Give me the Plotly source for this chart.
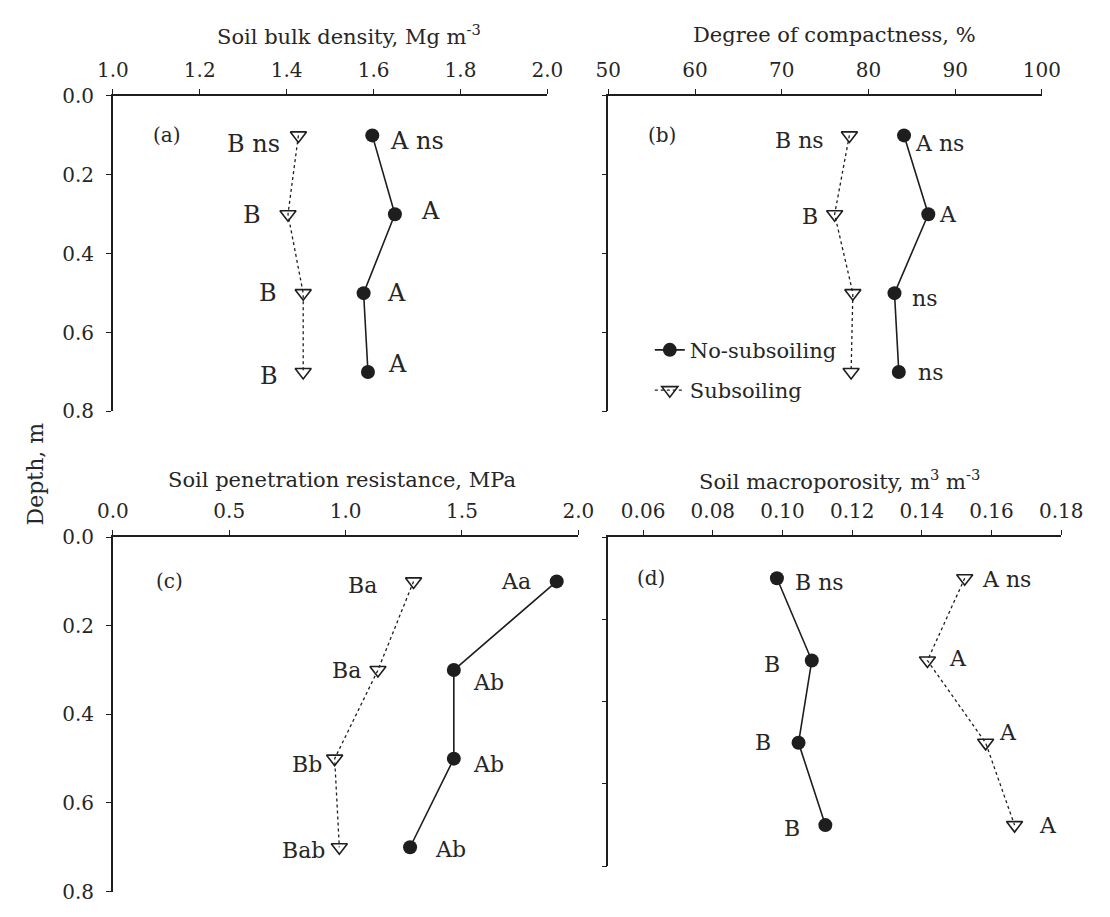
import plotly.graph_objects as go

# ---------------- data ----------------
depth = [0.1, 0.3, 0.5, 0.7]

bulk_no = [1.597, 1.649, 1.577, 1.587]
bulk_sub = [1.427, 1.403, 1.438, 1.438]
bulk_lab_no = ["A ns", "A", "A", "A"]
bulk_lab_sub = ["B ns", "B", "B", "B"]

comp_no = [84.1, 86.9, 83.0, 83.5]
comp_sub = [77.8, 76.1, 78.2, 78.0]
comp_lab_no = ["A ns", "A", "ns", "ns"]
comp_lab_sub = ["B ns", "B", "", ""]

pen_no = [1.907, 1.465, 1.465, 1.277]
pen_sub = [1.292, 1.139, 0.953, 0.973]
pen_lab_no = ["Aa", "Ab", "Ab", "Ab"]
pen_lab_sub = ["Ba", "Ba", "Bb", "Bab"]

macro_no = [0.0984, 0.1084, 0.1046, 0.1123]
macro_sub = [0.1523, 0.1416, 0.1583, 0.1666]
macro_lab_no = ["B ns", "B", "B", "B"]
macro_lab_sub = ["A ns", "A", "A", "A"]

titles = ["Soil bulk density, Mg m<sup>-3</sup>", "Degree of compactness, %",
          "Soil penetration resistance, MPa", "Soil macroporosity, m<sup>3</sup> m<sup>-3</sup>"]
panel_tags = ["(a)", "(b)", "(c)", "(d)"]
depth_ticks = [0.0, 0.2, 0.4, 0.6, 0.8]

# ---------------- layout helpers ----------------
W, H = 1110, 917
OFF = 8  # page body margin shifts the figure by 8 px
FONT = "DejaVu Serif"
INK = "#1e1e1e"
TXT = "#262626"


def fx(px):
    return (px - OFF) / W


def fy(py):
    return 1 - (py - OFF) / H


# panel geometry in window pixels: (x0, x1, y_top, y_bottom)
geom = [(100, 550, 86, 410), (613, 1062, 86, 410), (100, 582, 539, 903), (613, 1082, 539, 877)]
title_cx = [345, 847, 337, 852]
title_gap = [63, 63, 59, 59]
xranges = [[1.0, 2.0], [50, 100], [0.0, 2.0], [0.05, 0.18]]
xticks = [[1.0, 1.2, 1.4, 1.6, 1.8, 2.0], [50, 60, 70, 80, 90, 100],
          [0.0, 0.5, 1.0, 1.5, 2.0], [0.06, 0.08, 0.10, 0.12, 0.14, 0.16, 0.18]]
xfmt = [".1f", "d", ".1f", ".2f"]
tag_x = [1.124, 56.2, 0.245, 0.0624]
ann_size = [24, 22, 22, 22]

series = [
    (bulk_no, bulk_sub, bulk_lab_no, bulk_lab_sub),
    (comp_no, comp_sub, comp_lab_no, comp_lab_sub),
    (pen_no, pen_sub, pen_lab_no, pen_lab_sub),
    (macro_no, macro_sub, macro_lab_no, macro_lab_sub),
]

# label placement (side, xshift px, yshift px) per point
lab_pos_no = [
    [("r", 16, -6), ("r", 24, 3), ("r", 21, 0), ("r", 18, 8)],
    [("r", 9, -8), ("r", 9, 0), ("r", 16, -5), ("r", 17, 0)],
    [("l", -24, 0), ("r", 17, -12), ("r", 17, -6), ("r", 23, -2)],
    [("r", 16, -4), ("l", -30, -4), ("l", -26, 0), ("l", -23, -3)],
]
lab_pos_sub = [
    [("l", -16, -9), ("l", -25, -1), ("l", -24, 0), ("l", -23, -4)],
    [("l", -23, -5), ("l", -15, -2), ("l", 0, 0), ("l", 0, 0)],
    [("l", -35, -4), ("l", -15, 0), ("l", -11, -6), ("l", -12, -3)],
    [("r", 15, -1), ("r", 20, 2), ("r", 11, 10), ("r", 22, 0)],
]

fig = go.Figure()
annotations = []

for i in range(4):
    ax = "" if i == 0 else str(i + 1)
    xref, yref = "x" + ax, "y" + ax
    no, sub, lno, lsub = series[i]
    fig.add_trace(go.Scatter(
        x=no, y=depth, xaxis=xref, yaxis=yref, mode="lines+markers", name="No-subsoiling",
        line=dict(color=INK, width=1.6),
        marker=dict(symbol="circle", size=14, color=INK),
        showlegend=(i == 0), legendgroup="no"))
    fig.add_trace(go.Scatter(
        x=sub, y=depth, xaxis=xref, yaxis=yref, mode="lines+markers", name="Subsoiling",
        line=dict(color=INK, width=1.3, dash="dot"),
        marker=dict(symbol="triangle-down-open", size=14, color=INK, line=dict(width=1.6)),
        showlegend=(i == 0), legendgroup="sub"))

    for vals, labs, pos in ((no, lno, lab_pos_no[i]), (sub, lsub, lab_pos_sub[i])):
        for v, d, t, (side, xs, ys) in zip(vals, depth, labs, pos):
            if not t:
                continue
            annotations.append(dict(
                x=v, y=d, xref=xref, yref=yref, text=t, showarrow=False,
                xanchor="left" if side == "r" else "right", yanchor="middle",
                xshift=xs, yshift=ys, font=dict(family=FONT, size=ann_size[i], color=TXT)))

    annotations.append(dict(x=tag_x[i], y=depth[0], xref=xref, yref=yref, text=panel_tags[i],
                            showarrow=False, xanchor="center", yanchor="middle",
                            font=dict(family=FONT, size=20, color=TXT)))

    x0, x1, yt, yb = geom[i]
    annotations.append(dict(x=fx(title_cx[i]), y=fy(yt - title_gap[i]), xref="paper", yref="paper",
                            text=titles[i], showarrow=False, xanchor="center", yanchor="middle",
                            font=dict(family=FONT, size=21, color=TXT)))

    fig.update_layout(**{
        "xaxis" + ax: dict(domain=[fx(x0), fx(x1)], anchor=yref, side="top", range=xranges[i],
                           tickvals=xticks[i], tickformat=xfmt[i], showline=True, linecolor=INK,
                           linewidth=1.5, ticks="outside", ticklen=5, tickwidth=1.3, tickcolor=INK,
                           showgrid=False, zeroline=False, ticklabelstandoff=4,
                           tickfont=dict(family=FONT, size=20, color=TXT)),
        "yaxis" + ax: dict(domain=[fy(yb), fy(yt)], anchor=xref, range=[0.8, 0.0],
                           tickvals=depth_ticks, tickformat=".1f",
                           showticklabels=(i in (0, 2)), showline=True, linecolor=INK,
                           linewidth=1.5, ticks="outside", ticklen=5, tickwidth=1.3, tickcolor=INK,
                           showgrid=False, zeroline=False, ticklabelstandoff=8,
                           tickfont=dict(family=FONT, size=20, color=TXT)),
    })

annotations.append(dict(x=fx(20), y=fy(474), xref="paper", yref="paper", text="Depth, m",
                        showarrow=False, textangle=-90, xanchor="center", yanchor="middle",
                        font=dict(family=FONT, size=22, color=TXT)))

fig.update_layout(
    width=W, height=H, margin=dict(l=0, r=0, t=0, b=0),
    paper_bgcolor="white", plot_bgcolor="white",
    annotations=annotations,
    legend=dict(x=fx(656), y=fy(326), xanchor="left", yanchor="top", bgcolor="rgba(0,0,0,0)",
                font=dict(family=FONT, size=21, color=TXT), tracegroupgap=10),
    showlegend=True,
)

fig.write_html("out.html")
